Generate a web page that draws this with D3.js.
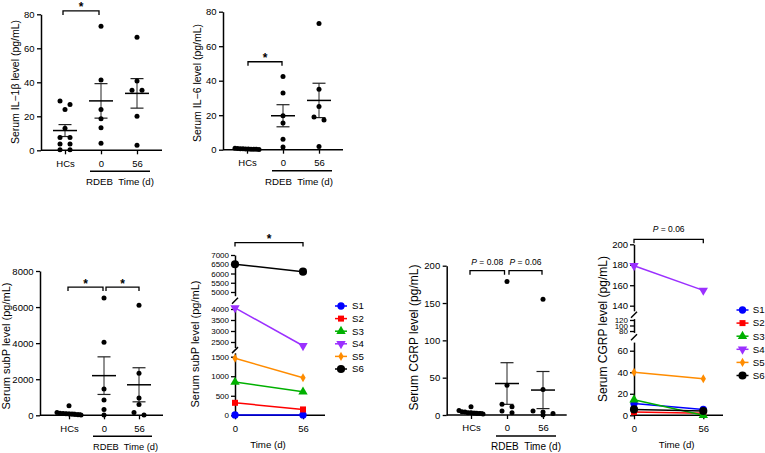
<!DOCTYPE html>
<html><head><meta charset="utf-8">
<script src="https://cdn.jsdelivr.net/npm/d3@7"></script>
<style>
body{margin:0;background:#fff}
svg{display:block}
</style></head><body>
<svg id="c" width="765" height="453"></svg>
<script>
// ---------------- DATA ----------------
const scatterCategories = ["HCs", "0", "56"];
const il1bHCs   = [29, 27, 24, 13, 7.6, 7.6, 3.7, 3.7, 0.3, 0.3];
const il1bDay0  = [73, 41.4, 24, 18.6, 13.3, 4.1];
const il1bDay56 = [66.5, 40.8, 35.3, 35.3, 20, 3];
const il6HCs    = [0.9, 0.6, 0.4, 0.2, 0.5, 0.1, 0.3, 0.7, 0.2, 0.4];
const il6Day0   = [42.5, 32.9, 19.7, 15.5, 6, 1.5];
const il6Day56  = [73.2, 35, 25.1, 19, 17.2, 1.9];
const subpHCs   = [530, 150, 120, 100, 90, 70, 60, 40, 30, 20];
const cgrpHCs   = [11, 6, 4.5, 4, 3, 3, 2.5, 2, 2, 1.5];

const pairedDays = ["0", "56"];
const subjects = ["S1", "S2", "S3", "S4", "S5", "S6"];
const subpDay0  = [10, 320, 850, 4050, 1460, 6500];
const subpDay56 = [10, 150, 600, 2330, 960, 6100];
const cgrpDay0  = [11, 3, 14.5, 179, 40, 5.5];
const cgrpDay56 = [5.5, 2, 0, 155, 34, 4];

const il1bTicks = [0, 20, 40, 60, 80];
const il6Ticks  = [0, 20, 40, 60, 80];
const subpTicks = [0, 2000, 4000, 6000, 8000];
const cgrpTicks = [0, 50, 100, 150, 200];
const subpPairedTicks = [0, 500, 1000, 1500, 2500, 3000, 3500, 4000, 5000, 5500, 6000, 6500, 7000];
const cgrpPairedTicks = [0, 20, 40, 60, 80, 100, 120, 140, 160, 180, 200];

// ---------------- STYLE ----------------
const FONT = '"Liberation Sans", Arial, Helvetica, sans-serif';
const subjectColors = ["#0000ff", "#ff0000", "#00b000", "#9b30ff", "#ff8c00", "#000000"];
const subjectSymbols = [d3.symbolCircle, d3.symbolSquare, d3.symbolTriangle, d3.symbolTriangle, d3.symbolDiamond, d3.symbolCircle];
const subjectRot = [0, 0, 0, 180, 0, 0];
const subjectSize = [42, 36, 38, 38, 24, 52];
const plain = d => String(d);

const svg = d3.select("#c").attr("font-family", FONT);

function styleAxis(sel, fs) {
  sel.selectAll("path.domain").attr("stroke", "#000").attr("stroke-width", 1.5);
  sel.selectAll(".tick line").attr("stroke", "#000").attr("stroke-width", 1.3);
  sel.selectAll(".tick text").attr("fill", "#000").attr("font-size", fs).attr("font-family", FONT);
}
function bracket(g, x1, x2, yb, drop) {
  g.append("path").attr("d", `M${x1},${yb + drop}V${yb}H${x2}V${yb + drop}`)
    .attr("fill", "none").attr("stroke", "#000").attr("stroke-width", 1.3);
}
function bracketLabel(g, xc, yb, label) {
  if (label === "*") {
    g.append("text").attr("x", xc).attr("y", yb + 0.5).attr("text-anchor", "middle")
      .attr("font-size", 12).attr("font-weight", "bold").text("*");
  } else {
    const t = g.append("text").attr("x", xc).attr("y", yb - 5.5).attr("text-anchor", "middle").attr("font-size", 8.5);
    t.append("tspan").attr("font-style", "italic").text("P");
    t.append("tspan").text(label.replace(/^P/, ""));
  }
}
function ylabel(g, x, y, fs, text) {
  g.append("text").attr("transform", `translate(${x},${y}) rotate(-90)`)
    .attr("text-anchor", "middle").attr("dy", "0.35em").attr("font-size", fs).text(text);
}
function swarm(values, y, maxW) {
  const pts = values.map(v => ({ v, py: y(v), dx: 0 })).sort((a, b) => a.py - b.py);
  const rows = []; let cur = null;
  pts.forEach(p => {
    if (cur && p.py - cur.start < 3.5) cur.items.push(p);
    else { cur = { start: p.py, items: [p] }; rows.push(cur); }
  });
  rows.forEach(r => {
    const n = r.items.length;
    const sp = n > 1 ? Math.min(10, maxW / (n - 1)) : 0;
    r.items.forEach((p, i) => p.dx = (i - (n - 1) / 2) * sp);
  });
  return pts;
}

// ---------------- SCATTER PANELS ----------------
function scatterPanel(c) {
  const g = svg.append("g");
  const y = d3.scaleLinear().domain(c.domain).range([c.y0, c.yTop]);
  const x = d3.scalePoint().domain(scatterCategories).range(c.xs);
  const ya = g.append("g").attr("transform", `translate(${c.axisX},0)`)
    .call(d3.axisLeft(y).tickValues(c.ticks).tickFormat(plain).tickSize(4).tickSizeOuter(0).tickPadding(2.5));
  styleAxis(ya, 9.5);
  g.append("line").attr("x1", c.axisX).attr("x2", c.axisEnd).attr("y1", c.y0).attr("y2", c.y0)
    .attr("stroke", "#000").attr("stroke-width", 1.5);
  const xa = g.append("g").attr("transform", `translate(0,${c.y0})`)
    .call(d3.axisBottom(x).tickSize(4).tickPadding(5.5));
  xa.select("path.domain").remove();
  styleAxis(xa, 9.5);
  const u1 = x("0") - 11, u2 = x("56") + 13;
  g.append("line").attr("x1", u1).attr("x2", u2).attr("y1", c.y0 + 21).attr("y2", c.y0 + 21)
    .attr("stroke", "#000").attr("stroke-width", 1.5);
  g.append("text").attr("x", (u1 + u2) / 2 + c.rdebDx).attr("y", c.y0 + 35).attr("text-anchor", "middle")
    .attr("font-size", c.rdebFs).style("white-space", "pre").text("RDEB  Time (d)");
  ylabel(g, c.ylx, c.yly, c.ylfs, c.ylabel);
  c.data.forEach((vals, i) => {
    const cx = x(scatterCategories[i]);
    const m = d3.mean(vals), sem = d3.deviation(vals) / Math.sqrt(vals.length);
    g.append("line").attr("x1", cx).attr("x2", cx).attr("y1", y(m - sem)).attr("y2", y(m + sem))
      .attr("stroke", "#222").attr("stroke-width", 1);
    [m - sem, m + sem].forEach(v => g.append("line").attr("x1", cx - 6.5).attr("x2", cx + 6.5)
      .attr("y1", y(v)).attr("y2", y(v)).attr("stroke", "#222").attr("stroke-width", 1.2));
    g.append("line").attr("x1", cx - 12).attr("x2", cx + 12).attr("y1", y(m)).attr("y2", y(m))
      .attr("stroke", "#000").attr("stroke-width", 1.5);
    swarm(vals, y, 24).forEach(p => g.append("circle").attr("cx", cx + p.dx).attr("cy", p.py)
      .attr("r", 2.5).attr("fill", "#000"));
  });
  c.brackets.forEach(b => {
    const yb = y(b.v);
    const x1 = x(b.a) + b.o1, x2 = x(b.b) + b.o2;
    bracket(g, x1, x2, yb, 4);
    bracketLabel(g, (x1 + x2) / 2, yb, b.label);
  });
}

scatterPanel({
  axisX: 41, axisEnd: 162, y0: 150.3, yTop: 14.3, domain: [0, 80], ticks: il1bTicks,
  xs: [65, 137], data: [il1bHCs, il1bDay0, il1bDay56],
  ylabel: "Serum IL\u22121\u03b2 level (pg/mL)", ylx: 15, yly: 82, ylfs: 10.5, rdebFs: 9.7, rdebDx: 0,
  brackets: [{ a: "HCs", b: "0", v: 82, label: "*", o1: -2, o2: -2 }]
});
scatterPanel({
  axisX: 223, axisEnd: 343, y0: 149.7, yTop: 11.7, domain: [0, 80], ticks: il6Ticks,
  xs: [247, 319], data: [il6HCs, il6Day0, il6Day56],
  ylabel: "Serum IL\u22126 level (pg/mL)", ylx: 197, yly: 83, ylfs: 10.5, rdebFs: 9.7, rdebDx: -3,
  brackets: [{ a: "HCs", b: "0", v: 51, label: "*", o1: 1, o2: -1 }]
});
scatterPanel({
  axisX: 40, axisEnd: 163, y0: 415.3, yTop: 271, domain: [0, 8000], ticks: subpTicks,
  xs: [69, 139], data: [subpHCs, subpDay0, subpDay56],
  ylabel: "Serum subP level (pg/mL)", ylx: 6, yly: 346, ylfs: 11, rdebFs: 9.3, rdebDx: 3,
  brackets: [{ a: "HCs", b: "0", v: 7110, label: "*", o1: -1, o2: -1 },
             { a: "0", b: "56", v: 7110, label: "*", o1: 2, o2: 0 }]
});
scatterPanel({
  axisX: 446.7, axisEnd: 566.7, y0: 415, yTop: 265.7, domain: [0, 200], ticks: cgrpTicks,
  xs: [471, 543], data: [cgrpHCs, cgrpDay0, cgrpDay56],
  ylabel: "Serum CGRP level (pg/mL)", ylx: 413.5, yly: 337.5, ylfs: 12, rdebFs: 10, rdebDx: 0,
  brackets: [{ a: "HCs", b: "0", v: 193.3, label: "P = 0.08", o1: -1, o2: -2.5 },
             { a: "0", b: "56", v: 193.3, label: "P = 0.06", o1: 2, o2: -1 }]
});

// ---------------- PAIRED PANELS ----------------
function pairedPanel(c) {
  const g = svg.append("g");
  const scales = c.segs.map(s => d3.scaleLinear().domain(s.d).range(s.r));
  const yv = v => {
    let best = scales[0], bd = Infinity;
    for (const s of scales) {
      const d = s.domain();
      const dist = v < d[0] ? d[0] - v : v > d[1] ? v - d[1] : 0;
      if (dist < bd) { bd = dist; best = s; }
    }
    return best(v);
  };
  scales.forEach((s, k) => {
    const d = s.domain();
    const a = g.append("g").attr("transform", `translate(${c.axisX},0)`)
      .call(d3.axisLeft(s).tickValues(c.ticks.filter(t => t >= d[0] && t <= d[1])).tickFormat(plain)
        .tickSize(4).tickSizeOuter(0).tickPadding(2));
    styleAxis(a, c.segFs ? c.segFs[k] : c.tickFs);
  });
  for (let i = 0; i < c.segs.length - 1; i++) {
    const mid = (c.segs[i].r[1] + c.segs[i + 1].r[0]) / 2;
    g.append("line").attr("x1", c.axisX - 3).attr("x2", c.axisX + 3)
      .attr("y1", mid + 3).attr("y2", mid - 3).attr("stroke", "#000").attr("stroke-width", 1.5);
  }
  const x = d3.scalePoint().domain(pairedDays).range([c.axisX, c.x56]);
  g.append("line").attr("x1", c.axisX).attr("x2", c.axisEnd).attr("y1", c.y0).attr("y2", c.y0)
    .attr("stroke", "#000").attr("stroke-width", 1.5);
  const xa = g.append("g").attr("transform", `translate(0,${c.y0})`)
    .call(d3.axisBottom(x).tickSize(4).tickPadding(5.5));
  xa.select("path.domain").remove();
  styleAxis(xa, 9.5);
  g.append("text").attr("x", c.timeX).attr("y", c.y0 + 33).attr("text-anchor", "middle")
    .attr("font-size", 9.7).text("Time (d)");
  ylabel(g, c.ylx, c.yly, c.ylfs, c.ylabel);
  const line = d3.line().x(d => x(d.day)).y(d => yv(d.v));
  subjects.forEach((s, i) => {
    const pts = [{ day: "0", v: c.d0[i] }, { day: "56", v: c.d56[i] }];
    g.append("path").attr("d", line(pts)).attr("fill", "none")
      .attr("stroke", subjectColors[i]).attr("stroke-width", 1.5);
    pts.forEach(p => g.append("path")
      .attr("d", d3.symbol().type(subjectSymbols[i]).size(subjectSize[i])())
      .attr("transform", `translate(${x(p.day)},${yv(p.v)}) rotate(${subjectRot[i]})`)
      .attr("fill", subjectColors[i]));
    const ly = c.legY + i * c.legStep;
    g.append("line").attr("x1", c.legX - 6).attr("x2", c.legX + 6).attr("y1", ly).attr("y2", ly)
      .attr("stroke", subjectColors[i]).attr("stroke-width", 1.5);
    g.append("path").attr("d", d3.symbol().type(subjectSymbols[i]).size(subjectSize[i])())
      .attr("transform", `translate(${c.legX},${ly}) rotate(${subjectRot[i]})`)
      .attr("fill", subjectColors[i]);
    g.append("text").attr("x", c.legTextX).attr("y", ly).attr("dy", "0.35em")
      .attr("font-size", 9.7).text(s);
  });
  const yb = scales[scales.length - 1](c.brV);
  bracket(g, x("0"), x("56"), yb, 4);
  bracketLabel(g, (x("0") + x("56")) / 2, c.brLabel === "*" ? yb : yb - 2, c.brLabel);
}

pairedPanel({
  axisX: 235, x56: 303, axisEnd: 325, y0: 415.3, tickFs: 8, ticks: subpPairedTicks,
  segs: [{ d: [0, 1600], r: [415.3, 352.8] }, { d: [2250, 4150], r: [347.5, 305.7] }, { d: [4800, 7000], r: [295.7, 255] }],
  d0: subpDay0, d56: subpDay56, timeX: 268,
  ylabel: "Serum subP level (pg/mL)", ylx: 195, yly: 344, ylfs: 11,
  legX: 341, legY: 306, legStep: 12.6, legTextX: 352,
  brV: 7670, brLabel: "*"
});
pairedPanel({
  axisX: 634, x56: 703.3, axisEnd: 723, y0: 415.3, tickFs: 9.5, segFs: [9.5, 8, 9.5], ticks: cgrpPairedTicks,
  segs: [{ d: [0, 68], r: [415.3, 342.1] }, { d: [75, 125], r: [332.4, 318.6] }, { d: [135, 200], r: [310.8, 244.3] }],
  d0: cgrpDay0, d56: cgrpDay56, timeX: 676.7,
  ylabel: "Serum CGRP level (pg/mL)", ylx: 602.5, yly: 329, ylfs: 12,
  legX: 742.5, legY: 310, legStep: 13.1, legTextX: 752.7,
  brV: 204.9, brLabel: "P = 0.06"
});
</script>
</body></html>
